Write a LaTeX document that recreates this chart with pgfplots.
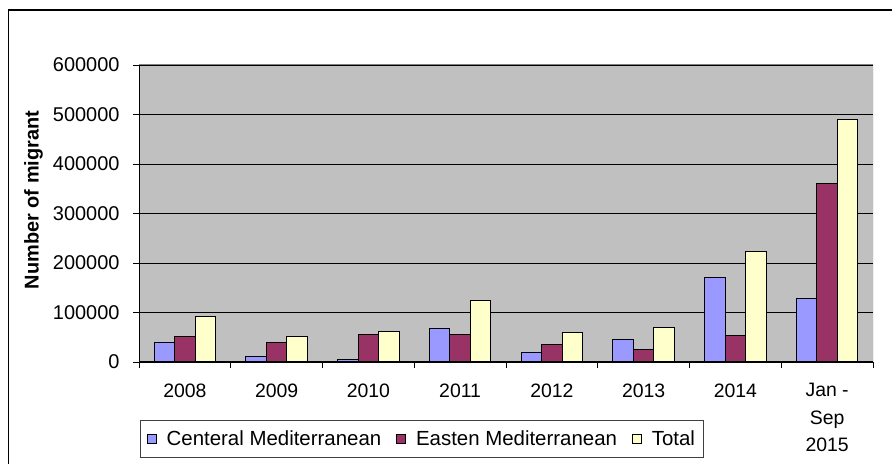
\documentclass[border=0pt]{standalone}
\usepackage{pgfplots}
\pgfplotsset{compat=1.18}
\usepackage{fontspec}
\setmainfont{Liberation Sans}
\definecolor{plotgray}{HTML}{C0C0C0}
\definecolor{cblue}{HTML}{9999FF}
\definecolor{cpurple}{HTML}{993366}
\definecolor{cyellow}{HTML}{FFFFCC}
\definecolor{bordergray}{HTML}{808080}
\begin{document}
\begin{tikzpicture}[x=1bp,y=1bp]
\useasboundingbox (0,0) rectangle (892,464);
\draw[black, line width=1.2bp] (8.5,-2) -- (8.5,454) -- (894,454);
\begin{axis}[
  at={(139bp,102bp)}, anchor=south west,
  width=734bp, height=297bp, scale only axis,
  ybar=0pt, bar width=20.5bp,
  xmin=-0.5, xmax=7.5, ymin=0, ymax=600000,
  ytick={0,100000,...,600000},
  xtick={0,...,7},
  xticklabels={2008,2009,2010,2011,2012,2013,2014,{Jan -\\Sep\\2015}},
  minor xtick={-0.5,0.5,...,7.5},
  tick align=outside,
  major tick length=6bp, minor tick length=6bp,
  x tick style={draw=none},
  minor x tick style={draw=black, line width=0.8bp},
  y tick style={draw=black, line width=0.8bp},
  tick pos=left,
  ymajorgrids,
  grid style={black, line width=0.8bp},
  axis background/.style={fill=plotgray},
  axis line style={draw=none},
  scaled y ticks=false,
  /pgf/number format/assume math mode=true,
  yticklabel={\pgfmathprintnumber[fixed,1000 sep={},precision=0]{\tick}},
  yticklabel style={font=\fontsize{20}{23}\selectfont, xshift=-10bp},
  xticklabel style={font=\fontsize{19.5}{27.5}\selectfont, align=center, yshift=-12bp},
  legend columns=3,
  legend style={at={(rel axis cs:0,0)}, anchor=north west, yshift=-58bp, xshift=0.5bp,
    draw=black!75, line width=0.8bp, font=\fontsize{20.5}{23}\selectfont,
    inner xsep=7bp, inner ysep=9.5bp,
    nodes={inner sep=1bp},
    /tikz/every odd column/.append style={column sep=9bp},
    /tikz/every even column/.append style={column sep=14bp}},
  legend image code/.code={\draw[#1, draw=black, line width=0.8bp] (0bp,-4.5bp) rectangle (9bp,4.5bp);},
  every axis plot/.append style={draw=black, line width=1bp},
]
\addplot[fill=cblue] coordinates {(0,39000) (1,12000) (2,5500) (3,67500) (4,19000) (5,45000) (6,170000) (7,128000)};
\addplot[fill=cpurple] coordinates {(0,51000) (1,39000) (2,55000) (3,55000) (4,36000) (5,26000) (6,53000) (7,361000)};
\addplot[fill=cyellow] coordinates {(0,92000) (1,51000) (2,62000) (3,124000) (4,59000) (5,70000) (6,223000) (7,489000)};
\legend{Centeral Mediterranean, Easten Mediterranean, Total}
\draw[bordergray, line width=1bp] (rel axis cs:0,1) -- (rel axis cs:1,1) -- (rel axis cs:1,0);
\draw[black, line width=1bp] (rel axis cs:0,1) -- (rel axis cs:0,0) -- (rel axis cs:1,0);
\end{axis}
\node[rotate=90, font=\bfseries\fontsize{20}{23}\selectfont] at (33.5,264) {Number of migrant};
\end{tikzpicture}
\end{document}
